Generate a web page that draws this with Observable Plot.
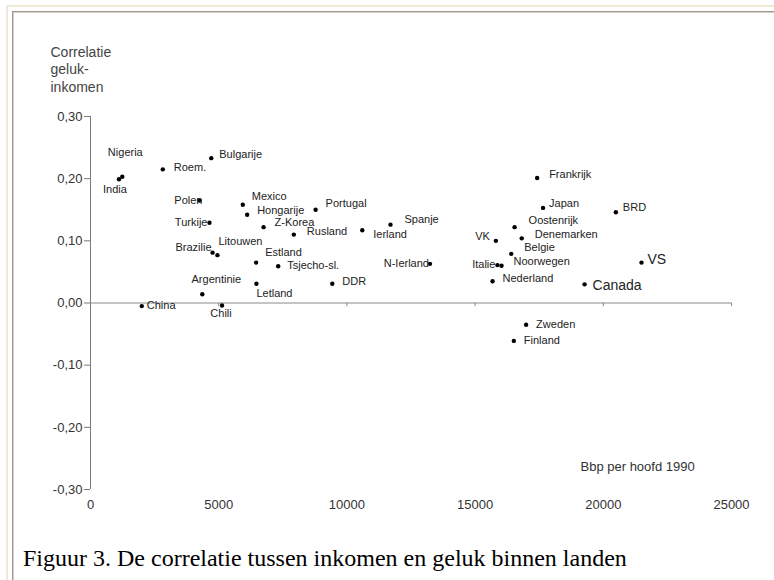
<!DOCTYPE html>
<html>
<head>
<meta charset="utf-8">
<script src="https://cdn.jsdelivr.net/npm/d3@7"></script>
<script src="https://cdn.jsdelivr.net/npm/@observablehq/plot@0.6"></script>
<style>
  html, body { margin: 0; padding: 0; background: #fff; }
  #wrap { position: relative; width: 774px; height: 580px; overflow: hidden; background: #fff; }
  #frameOuter { position: absolute; left: 6px; top: 5px; right: -4px; bottom: -4px;
    border-top: 2px solid #efe9d8; border-left: 2px solid #efe9d8; }
  #frameInner { position: absolute; left: 12px; top: 11px; right: -4px; bottom: -4px;
    border-top: 1px solid #9e9a8e; border-left: 1px solid #9e9a8e;
    box-shadow: inset 1px 1px 0 #d4d0c4; }
  #chart { position: absolute; left: 0; top: 0; }
  #caption { position: absolute; left: 23px; top: 546px; font-family: "Liberation Serif", "Times New Roman", serif;
    font-size: 24px; line-height: 24px; color: #000; white-space: nowrap; }
</style>
</head>
<body>
<div id="wrap">
  <div id="frameOuter"></div>
  <div id="frameInner"></div>
  <div id="chart"></div>
  <div id="caption">Figuur 3. De correlatie tussen inkomen en geluk binnen landen</div>
</div>
<script>
// ---- Data ----
const countries = ["Nigeria","India","Roem.","Bulgarije","Polen","Turkije","Brazilie","Litouwen",
  "Mexico","Hongarije","Portugal","Z-Korea","Rusland","Ierland","Spanje","Estland","Tsjecho-sl.",
  "Argentinie","Letland","DDR","China","Chili","N-Ierland","Frankrijk","Japan","BRD","Oostenrijk",
  "Denemarken","VK","Belgie","Italie","Noorwegen","Nederland","Canada","VS","Zweden","Finland"];
const gdp = [1240,1110,2820,4710,4250,4640,4760,4950,
  5940,6110,8780,6750,7930,10600,11700,6460,7320,
  4360,6470,9430,2000,5130,13240,17420,17650,20490,16540,
  16820,15810,16410,15870,16030,15680,19270,21490,16990,16510];
const corr = [0.203,0.199,0.215,0.233,0.165,0.129,0.081,0.077,
  0.158,0.142,0.150,0.122,0.110,0.117,0.126,0.065,0.059,
  0.014,0.031,0.031,-0.005,-0.004,0.063,0.201,0.153,0.146,0.122,
  0.104,0.100,0.079,0.061,0.060,0.035,0.030,0.065,-0.035,-0.061];
const xTicks = [0,5000,10000,15000,20000,25000];
const yTicks = [-0.3,-0.2,-0.1,0,0.1,0.2,0.3];
const yLabel = "Correlatie\ngeluk-\ninkomen";
const xLabel = "Bbp per hoofd 1990";

// ---- Label placement (style only) ----
const place = {
  "Nigeria":[3,-24,"middle"], "India":[-4,10,"middle"], "Roem.":[11,-2,"start"],
  "Bulgarije":[8,-4,"start"], "Polen":[3,0,"end"], "Turkije":[-2,0,"end"],
  "Brazilie":[-1,-5,"end"], "Litouwen":[1,-14,"start"], "Mexico":[9,-8,"start"],
  "Hongarije":[10,-4,"start"], "Portugal":[10,-6,"start"], "Z-Korea":[11,-5,"start"],
  "Rusland":[13,-3,"start"], "Ierland":[11,4,"start"], "Spanje":[14,-5,"start"],
  "Estland":[9,-10,"start"], "Tsjecho-sl.":[9,-1,"start"], "Argentinie":[14,-15,"middle"],
  "Letland":[0,10,"start"], "DDR":[10,-2,"start"], "China":[5,-1,"start"],
  "Chili":[-1,8,"middle"], "N-Ierland":[-1,0,"end"], "Frankrijk":[12,-4,"start"],
  "Japan":[6,-4,"start"], "BRD":[7,-5,"start"], "Oostenrijk":[14,-7,"start"],
  "Denemarken":[13,-4,"start"], "VK":[-6,-4,"end"], "Belgie":[13,-6,"start"],
  "Italie":[-2,-1,"end"], "Noorwegen":[12,-4,"start"], "Nederland":[10,-3,"start"],
  "Canada":[8,1,"start"], "VS":[6,-3,"start"], "Zweden":[10,0,"start"], "Finland":[10,0,"start"]
};
const bigLabels = new Set(["Canada","VS"]);

const data = countries.map((c, i) => ({country: c, gdp: gdp[i], corr: corr[i]}));
const fmtY = d => (d < 0 ? "-" : "") + Math.abs(d).toFixed(2).replace(".", ",");

const labelMarks = data.map(d => {
  const [dx, dy, anchor] = place[d.country];
  const big = bigLabels.has(d.country);
  return Plot.text([d], {
    x: "gdp", y: "corr", text: "country", dx, dy, textAnchor: anchor,
    fontSize: big ? 14 : 11, fill: "#222",
    style: big ? "letter-spacing:0.3px" : "letter-spacing:0.9px"
  });
});

const chart = Plot.plot({
  width: 774,
  height: 540,
  marginLeft: 90,
  marginRight: 43,
  marginTop: 116,
  marginBottom: 51,
  style: {fontFamily: "'Liberation Sans', Arial, sans-serif", fontSize: "12px", background: "transparent", color: "#333"},
  x: {domain: [0, 25000], axis: null},
  y: {domain: [-0.3, 0.3], axis: null},
  marks: [
    Plot.ruleX([0], {y1: -0.3, y2: 0.3, stroke: "#7a7a7a"}),
    Plot.ruleY([0], {x1: 0, x2: 25000, stroke: "#8a8a8a"}),
    Plot.ruleX(xTicks.slice(1), {x: d => d, y1: 0, y2: -0.006, stroke: "#8a8a8a"}),
    Plot.axisY(yTicks, {anchor: "left", tickSize: 6, tickPadding: 2, tickFormat: fmtY,
      fontSize: 13, stroke: "#7a7a7a", fill: "#333", label: null}),
    Plot.axisX(xTicks, {anchor: "bottom", tickSize: 0, tickPadding: 10, tickFormat: d => String(d),
      fontSize: 13, fill: "#333", label: null}),
    Plot.text([yLabel], {frameAnchor: "top-left", dx: -40, dy: -72, textAnchor: "start",
      lineAnchor: "top", lineHeight: 1.24, fontSize: 14, fill: "#444"}),
    Plot.text([xLabel], {frameAnchor: "bottom-left", dx: 490, dy: -19, textAnchor: "start",
      fontSize: 13, fill: "#333"}),
    Plot.dot(data, {x: "gdp", y: "corr", r: 2.2, fill: "#000", stroke: "none"}),
    ...labelMarks
  ]
});
document.getElementById("chart").appendChild(chart);
</script>
</body>
</html>
